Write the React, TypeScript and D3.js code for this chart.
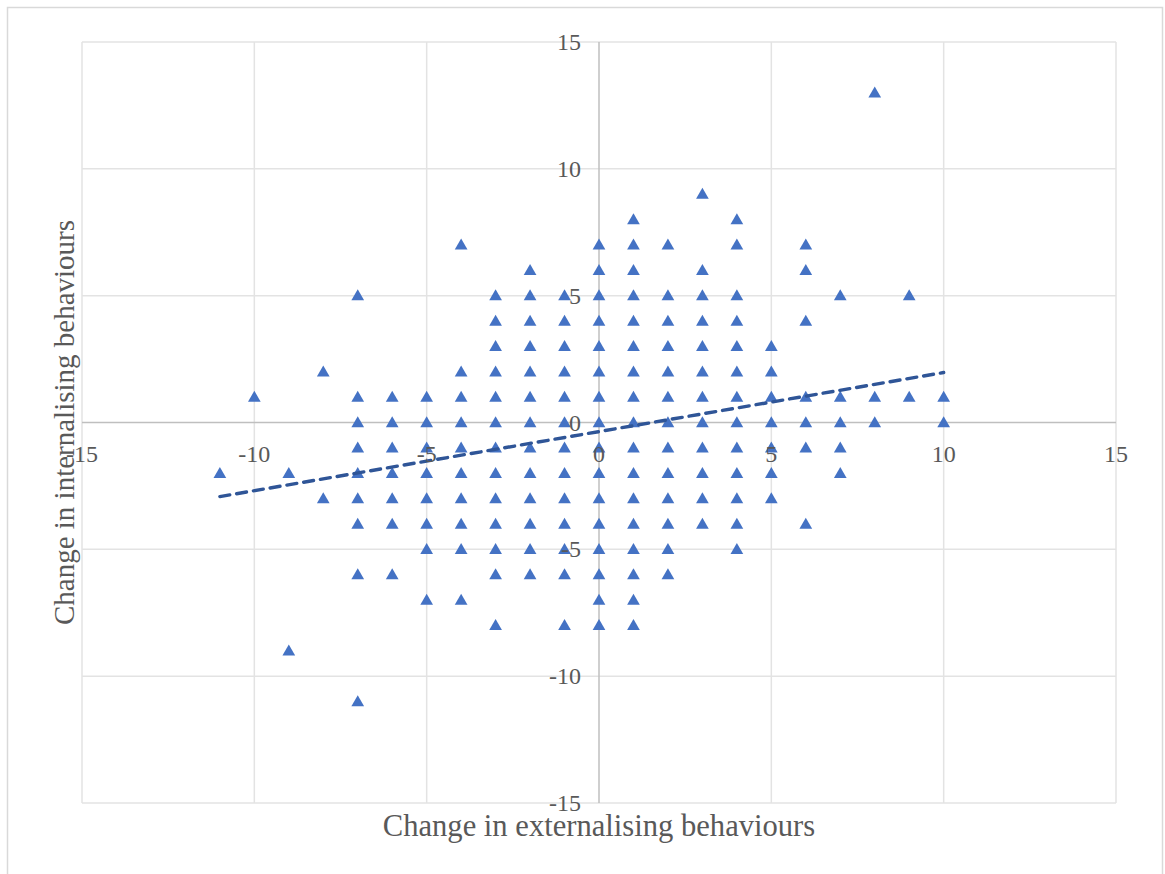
import React, { useEffect, useRef } from 'react';
import * as d3 from 'd3';

// change in externalising (x) for each column of points
const externalChange = [-11, -10, -9, -8, -7, -6, -5, -4, -3, -2, -1, 0, 1, 2, 3, 4, 5, 6, 7, 8, 9, 10];

// change in internalising (y) values found in each column
const internalChange = [
    [-2],
    [1],
    [-2, -9],
    [2, -3],
    [5, 1, 0, -1, -2, -3, -4, -6, -11],
    [1, 0, -1, -2, -3, -4, -6],
    [1, 0, -1, -2, -3, -4, -5, -7],
    [7, 2, 1, 0, -1, -2, -3, -4, -5, -7],
    [5, 4, 3, 2, 1, 0, -1, -2, -3, -4, -5, -6, -8],
    [6, 5, 4, 3, 2, 1, 0, -1, -2, -3, -4, -5, -6],
    [5, 4, 3, 2, 1, 0, -1, -2, -3, -4, -5, -6, -8],
    [7, 6, 5, 4, 3, 2, 1, 0, -1, -2, -3, -4, -5, -6, -7, -8],
    [8, 7, 6, 5, 4, 3, 2, 1, 0, -1, -2, -3, -4, -5, -6, -7, -8],
    [7, 5, 4, 3, 2, 1, 0, -1, -2, -3, -4, -5, -6],
    [9, 6, 5, 4, 3, 2, 1, 0, -1, -2, -3, -4],
    [8, 7, 5, 4, 3, 2, 1, 0, -1, -2, -3, -4, -5],
    [3, 2, 1, 0, -1, -2, -3],
    [7, 6, 4, 1, 0, -1, -4],
    [5, 1, 0, -1, -2],
    [13, 1, 0],
    [5, 1],
    [1, 0],
];

// linear trendline, read at its two ends
const trendX = [-11, 10];
const trendY = [-2.92, 1.97];

const tickValues = [-15, -10, -5, 0, 5, 10, 15];

const xTitle = 'Change in externalising behaviours';
const yTitle = 'Change in internalising behaviours';

function App() {
    const ref = useRef<SVGSVGElement | null>(null);

    useEffect(() => {
        const svg = d3.select(ref.current);
        svg.selectAll('*').remove();

        const font = '"Liberation Serif", "Times New Roman", serif';
        const textColor = '#595959';

        const x = d3.scaleLinear().domain([-15, 15]).range([82, 1116]);
        const y = d3.scaleLinear().domain([-15, 15]).range([803, 42]);

        // chart border
        svg.append('rect')
            .attr('x', 7.5)
            .attr('y', 7.5)
            .attr('width', 1155)
            .attr('height', 900)
            .attr('fill', '#fff')
            .attr('stroke', '#d9d9d9')
            .attr('stroke-width', 1.5);

        // gridlines
        const grid = svg.append('g').attr('stroke', '#e3e3e3').attr('stroke-width', 1.5);
        grid.selectAll('line.v')
            .data(tickValues.filter(t => t !== 0))
            .enter()
            .append('line')
            .attr('x1', d => x(d))
            .attr('x2', d => x(d))
            .attr('y1', y(15))
            .attr('y2', y(-15));
        grid.selectAll('line.h')
            .data(tickValues.filter(t => t !== 0))
            .enter()
            .append('line')
            .attr('class', 'h')
            .attr('y1', d => y(d))
            .attr('y2', d => y(d))
            .attr('x1', x(-15))
            .attr('x2', x(15));

        // axes crossing at zero
        svg.append('line')
            .attr('x1', x(0)).attr('x2', x(0))
            .attr('y1', y(15)).attr('y2', y(-15))
            .attr('stroke', '#bfbfbf')
            .attr('stroke-width', 1.5);
        svg.append('line')
            .attr('x1', x(-15)).attr('x2', x(15))
            .attr('y1', y(0)).attr('y2', y(0))
            .attr('stroke', '#bfbfbf')
            .attr('stroke-width', 1.5);

        // points
        const points = externalChange.flatMap((ex, i) => internalChange[i].map(v => [ex, v]));
        const triangle = d3.symbol().type(d3.symbolTriangle).size(70);
        svg.append('g')
            .selectAll('path')
            .data(points)
            .enter()
            .append('path')
            .attr('d', triangle)
            .attr('transform', d => `translate(${x(d[0])},${y(d[1]) + 1})`)
            .attr('fill', '#4472c4');

        // trendline
        const line = d3.line<number>()
            .x(d => x(d))
            .y((d, i) => y(trendY[i]));
        svg.append('path')
            .datum(trendX)
            .attr('d', line)
            .attr('fill', 'none')
            .attr('stroke', '#2f5597')
            .attr('stroke-width', 3.4)
            .attr('stroke-linecap', 'round')
            .attr('stroke-dasharray', '10,7');

        // tick labels
        svg.append('g')
            .selectAll('text')
            .data(tickValues)
            .enter()
            .append('text')
            .attr('x', d => x(d))
            .attr('y', y(0) + 39)
            .attr('text-anchor', 'middle')
            .attr('font-family', font)
            .attr('font-size', 24)
            .attr('fill', textColor)
            .text(d => d);
        svg.append('g')
            .selectAll('text')
            .data(tickValues)
            .enter()
            .append('text')
            .attr('x', x(0) - 18)
            .attr('y', d => y(d) + 8)
            .attr('text-anchor', 'end')
            .attr('font-family', font)
            .attr('font-size', 24)
            .attr('fill', textColor)
            .text(d => d);

        // axis titles
        svg.append('text')
            .attr('x', x(0))
            .attr('y', 836)
            .attr('text-anchor', 'middle')
            .attr('font-family', font)
            .attr('font-size', 30.6)
            .attr('fill', textColor)
            .text(xTitle);
        svg.append('text')
            .attr('transform', `translate(74,${y(0)}) rotate(-90)`)
            .attr('text-anchor', 'middle')
            .attr('font-family', font)
            .attr('font-size', 29)
            .attr('fill', textColor)
            .text(yTitle);
    }, []);

    return (
        <svg
            ref={ref}
            width={1165}
            height={874}
            style={{ position: 'absolute', left: 0, top: 0 }}
        />
    );
}

export default App;
